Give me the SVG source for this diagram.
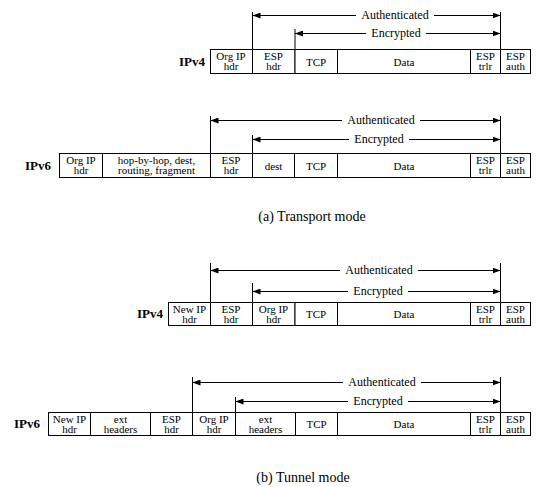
<svg xmlns="http://www.w3.org/2000/svg" width="541" height="487" viewBox="0 0 541 487">
<style>
  text { font-family: "Liberation Serif", "Times New Roman", serif; fill: #000; }
  .box { fill: #fff; stroke: #000; stroke-width: 1; }
  .bt { font-size: 11px; text-anchor: middle; }
  .lbl { font-size: 13px; font-weight: bold; text-anchor: end; }
  .al { font-size: 12px; text-anchor: middle; }
  .cap { font-size: 14px; text-anchor: middle; }
  .ln { stroke: #000; stroke-width: 1; fill: none; }
  .sa { stroke: #000; stroke-width: 1; fill: none; marker-start: url(#ah); }
  .ea { stroke: #000; stroke-width: 1; fill: none; marker-end: url(#ah); }
</style>
<defs>
  <marker id="ah" viewBox="0 0 8 6" refX="8" refY="3" markerWidth="8" markerHeight="6" markerUnits="userSpaceOnUse" orient="auto-start-reverse">
    <path d="M0,0 L8,3 L0,6 Z" fill="#000"/>
  </marker>
</defs>
<rect width="541" height="487" fill="#fff"/>

<!-- Row 1: IPv4 transport -->
<g id="row1">
  <text class="lbl" x="205" y="66">IPv4</text>
  <g id="r1-orgip"><rect class="box" x="210.5" y="49.5" width="42" height="24"/><text class="bt" x="231" y="60">Org IP</text><text class="bt" x="231" y="70">hdr</text></g>
  <g id="r1-esphdr"><rect class="box" x="252.5" y="49.5" width="42.5" height="24"/><text class="bt" x="273.5" y="60">ESP</text><text class="bt" x="273.5" y="70">hdr</text></g>
  <g id="r1-tcp"><rect class="box" x="295" y="49.5" width="42.5" height="24"/><text class="bt" x="316" y="65.5">TCP</text></g>
  <g id="r1-data"><rect class="box" x="337.5" y="49.5" width="133" height="24"/><text class="bt" x="404" y="65.5">Data</text></g>
  <g id="r1-esptrlr"><rect class="box" x="470.5" y="49.5" width="30" height="24"/><text class="bt" x="485.5" y="60">ESP</text><text class="bt" x="485.5" y="70">trlr</text></g>
  <g id="r1-espauth"><rect class="box" x="500.5" y="49.5" width="30" height="24"/><text class="bt" x="515.5" y="60">ESP</text><text class="bt" x="515.5" y="70">auth</text></g>
  <text class="al" x="395" y="19">Authenticated</text>
  <text class="al" x="396" y="37">Encrypted</text>
</g>

<!-- Row 2: IPv6 transport -->
<g id="row2">
  <text class="lbl" x="51" y="170">IPv6</text>
  <g id="r2-orgip"><rect class="box" x="59.5" y="153.5" width="43" height="24"/><text class="bt" x="81" y="164">Org IP</text><text class="bt" x="81" y="174">hdr</text></g>
  <g id="r2-ext"><rect class="box" x="102.5" y="153.5" width="108" height="24"/><text class="bt" x="156.5" y="164">hop-by-hop, dest,</text><text class="bt" x="156.5" y="174">routing, fragment</text></g>
  <g id="r2-esphdr"><rect class="box" x="210.5" y="153.5" width="42" height="24"/><text class="bt" x="231" y="164">ESP</text><text class="bt" x="231" y="174">hdr</text></g>
  <g id="r2-dest"><rect class="box" x="252.5" y="153.5" width="42" height="24"/><text class="bt" x="273.5" y="169.5">dest</text></g>
  <g id="r2-tcp"><rect class="box" x="294.5" y="153.5" width="43" height="24"/><text class="bt" x="316" y="169.5">TCP</text></g>
  <g id="r2-data"><rect class="box" x="337.5" y="153.5" width="133" height="24"/><text class="bt" x="404" y="169.5">Data</text></g>
  <g id="r2-esptrlr"><rect class="box" x="470.5" y="153.5" width="30" height="24"/><text class="bt" x="485.5" y="164">ESP</text><text class="bt" x="485.5" y="174">trlr</text></g>
  <g id="r2-espauth"><rect class="box" x="500.5" y="153.5" width="30" height="24"/><text class="bt" x="515.5" y="164">ESP</text><text class="bt" x="515.5" y="174">auth</text></g>
  <text class="al" x="381" y="124">Authenticated</text>
  <text class="al" x="379" y="143">Encrypted</text>
</g>

<text class="cap" x="312" y="221">(a) Transport mode</text>

<!-- Row 3: IPv4 tunnel -->
<g id="row3">
  <text class="lbl" x="163" y="318">IPv4</text>
  <g id="r3-newip"><rect class="box" x="168.5" y="302.5" width="42" height="23"/><text class="bt" x="189.5" y="313">New IP</text><text class="bt" x="189.5" y="322.5">hdr</text></g>
  <g id="r3-esphdr"><rect class="box" x="210.5" y="302.5" width="42" height="23"/><text class="bt" x="231" y="313">ESP</text><text class="bt" x="231" y="322.5">hdr</text></g>
  <g id="r3-orgip"><rect class="box" x="252.5" y="302.5" width="42.5" height="23"/><text class="bt" x="273.5" y="313">Org IP</text><text class="bt" x="273.5" y="322.5">hdr</text></g>
  <g id="r3-tcp"><rect class="box" x="295" y="302.5" width="42.5" height="23"/><text class="bt" x="316" y="318">TCP</text></g>
  <g id="r3-data"><rect class="box" x="337.5" y="302.5" width="133" height="23"/><text class="bt" x="404" y="318">Data</text></g>
  <g id="r3-esptrlr"><rect class="box" x="470.5" y="302.5" width="30" height="23"/><text class="bt" x="485.5" y="313">ESP</text><text class="bt" x="485.5" y="322.5">trlr</text></g>
  <g id="r3-espauth"><rect class="box" x="500.5" y="302.5" width="30" height="23"/><text class="bt" x="515.5" y="313">ESP</text><text class="bt" x="515.5" y="322.5">auth</text></g>
  <text class="al" x="379" y="274">Authenticated</text>
  <text class="al" x="378" y="295">Encrypted</text>
</g>

<!-- Row 4: IPv6 tunnel -->
<g id="row4">
  <text class="lbl" x="40" y="428">IPv6</text>
  <g id="r4-newip"><rect class="box" x="48.5" y="412.5" width="42" height="23"/><text class="bt" x="69.5" y="423">New IP</text><text class="bt" x="69.5" y="432.5">hdr</text></g>
  <g id="r4-ext1"><rect class="box" x="90.5" y="412.5" width="60" height="23"/><text class="bt" x="120.5" y="423">ext</text><text class="bt" x="120.5" y="432.5">headers</text></g>
  <g id="r4-esphdr"><rect class="box" x="150.5" y="412.5" width="42" height="23"/><text class="bt" x="171.5" y="423">ESP</text><text class="bt" x="171.5" y="432.5">hdr</text></g>
  <g id="r4-orgip"><rect class="box" x="192.5" y="412.5" width="43" height="23"/><text class="bt" x="214" y="423">Org IP</text><text class="bt" x="214" y="432.5">hdr</text></g>
  <g id="r4-ext2"><rect class="box" x="235.5" y="412.5" width="60" height="23"/><text class="bt" x="265.5" y="423">ext</text><text class="bt" x="265.5" y="432.5">headers</text></g>
  <g id="r4-tcp"><rect class="box" x="295.5" y="412.5" width="42" height="23"/><text class="bt" x="316.5" y="428">TCP</text></g>
  <g id="r4-data"><rect class="box" x="337.5" y="412.5" width="133" height="23"/><text class="bt" x="404" y="428">Data</text></g>
  <g id="r4-esptrlr"><rect class="box" x="470.5" y="412.5" width="30" height="23"/><text class="bt" x="485.5" y="423">ESP</text><text class="bt" x="485.5" y="432.5">trlr</text></g>
  <g id="r4-espauth"><rect class="box" x="500.5" y="412.5" width="30" height="23"/><text class="bt" x="515.5" y="423">ESP</text><text class="bt" x="515.5" y="432.5">auth</text></g>
  <text class="al" x="382" y="386">Authenticated</text>
  <text class="al" x="378" y="405">Encrypted</text>
</g>

<text class="cap" x="303" y="482">(b) Tunnel mode</text>

<g id="connectors">
  <!-- Row 1 -->
  <path class="ln" d="M252.5,12 V49.5 M295,29 V49.5 M500.5,12 V49.5"/>
  <path class="sa" d="M252.5,15.5 H356"/>
  <path class="ea" d="M434,15.5 H500.5"/>
  <path class="sa" d="M295,33.5 H366"/>
  <path class="ea" d="M426,33.5 H500.5"/>
  <!-- Row 2 -->
  <path class="ln" d="M210.5,116 V153.5 M252.5,135 V153.5 M500.5,116 V153.5"/>
  <path class="sa" d="M210.5,120.5 H342"/>
  <path class="ea" d="M420,120.5 H500.5"/>
  <path class="sa" d="M252.5,139.5 H349"/>
  <path class="ea" d="M409,139.5 H500.5"/>
  <!-- Row 3 -->
  <path class="ln" d="M210.5,263 V302.5 M252.5,283 V302.5 M500.5,263 V302.5"/>
  <path class="sa" d="M210.5,270.5 H340"/>
  <path class="ea" d="M418,270.5 H500.5"/>
  <path class="sa" d="M252.5,291.5 H348"/>
  <path class="ea" d="M408,291.5 H500.5"/>
  <!-- Row 4 -->
  <path class="ln" d="M192.5,377 V412.5 M235.5,397 V412.5 M500.5,377 V412.5"/>
  <path class="sa" d="M192.5,382.5 H343"/>
  <path class="ea" d="M421,382.5 H500.5"/>
  <path class="sa" d="M235.5,401.5 H348"/>
  <path class="ea" d="M408,401.5 H500.5"/>
</g>
</svg>
